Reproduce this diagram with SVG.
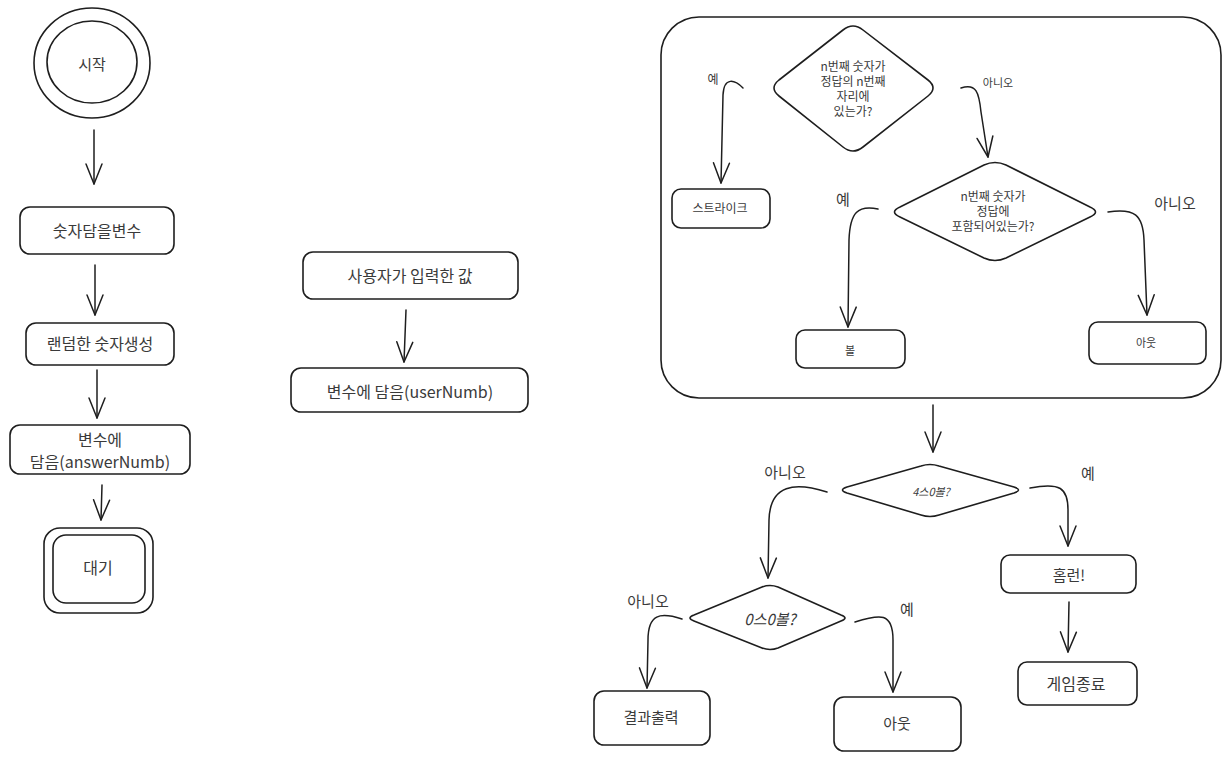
<svg xmlns="http://www.w3.org/2000/svg" width="1229" height="762" viewBox="0 0 1229 762">
  <defs>
    <style>
      .shape { fill: none; stroke: #1e1e1e; stroke-width: 1.6; stroke-linejoin: round; stroke-linecap: round; }
      .conn { fill: none; stroke: #1e1e1e; stroke-width: 1.5; stroke-linecap: round; }
      .t { font-family: "Noto Sans CJK KR", "Noto Sans", sans-serif; fill: #3a3a3a; text-anchor: middle; dominant-baseline: central; }
      .lg { font-size: 16px; }
      .md { font-size: 15px; }
      .sm { font-size: 12px; }
      .xs { font-size: 11px; }
    </style>
    <marker id="head" markerUnits="userSpaceOnUse" viewBox="-24 -12 28 24" refX="0" refY="0" markerWidth="28" markerHeight="24" orient="auto">
      <path d="M-20,-8 L0,0 L-20,8" fill="none" stroke="#1e1e1e" stroke-width="1.5" stroke-linecap="round" stroke-linejoin="round"/>
    </marker>
  </defs>
  <rect width="1229" height="762" fill="#ffffff"/>

  <!-- left column: answer number setup -->
  <g id="start">
    <ellipse class="shape" cx="92" cy="63" rx="58" ry="55"/>
    <ellipse class="shape" cx="92" cy="62" rx="45" ry="41"/>
    <text class="t md" x="92" y="63">시작</text>
  </g>
  <g id="var-box">
    <rect class="shape" x="20" y="207" width="154" height="47" rx="10"/>
    <text class="t lg" x="97" y="230">숫자담을변수</text>
  </g>
  <g id="random">
    <rect class="shape" x="26" y="323" width="148" height="42" rx="10"/>
    <text class="t lg" x="100" y="343">랜덤한 숫자생성</text>
  </g>
  <g id="store-answer">
    <rect class="shape" x="10" y="425" width="180" height="49" rx="10"/>
    <text class="t lg" x="100" y="439">변수에</text>
    <text class="t lg" x="100" y="461">담음(answerNumb)</text>
  </g>
  <g id="wait">
    <rect class="shape" x="44" y="528" width="109" height="85" rx="16"/>
    <rect class="shape" x="53" y="535" width="92" height="68" rx="13"/>
    <text class="t lg" x="98" y="567">대기</text>
  </g>

  <!-- middle column: user input -->
  <g id="user-input">
    <rect class="shape" x="303" y="252" width="215" height="47" rx="10"/>
    <text class="t lg" x="410" y="275">사용자가 입력한 값</text>
  </g>
  <g id="store-user">
    <rect class="shape" x="291" y="368" width="237" height="44" rx="10"/>
    <text class="t lg" x="410" y="391">변수에 담음(userNumb)</text>
  </g>

  <!-- right side: per-digit check -->
  <g id="check-frame">
    <rect class="shape" x="661" y="17" width="560" height="381" rx="38"/>
  </g>
  <g id="position-check">
    <path class="shape" d="M779,80 L843,30 Q853,22 863,30 L928,80 Q938,88 928,96 L863,147 Q853,155 843,147 L779,96 Q769,88 779,80 Z"/>
    <text class="t sm" x="853" y="65">n번째 숫자가</text>
    <text class="t sm" x="853" y="80">정답의 n번째</text>
    <text class="t sm" x="853" y="95">자리에</text>
    <text class="t sm" x="853" y="110">있는가?</text>
  </g>
  <g id="strike">
    <rect class="shape" x="672" y="189" width="98" height="39" rx="9"/>
    <text class="t sm" x="720" y="207">스트라이크</text>
  </g>
  <g id="contain-check">
    <path class="shape" d="M900,207 L984,165 Q995,160 1006,165 L1090,207 Q1101,212 1090,217 L1006,258 Q995,263 984,258 L900,217 Q889,212 900,207 Z"/>
    <text class="t sm" x="993" y="195">n번째 숫자가</text>
    <text class="t sm" x="993" y="210">정답에</text>
    <text class="t sm" x="993" y="225">포함되어있는가?</text>
  </g>
  <g id="ball">
    <rect class="shape" x="796" y="330" width="109" height="38" rx="9"/>
    <text class="t xs" x="850" y="350">볼</text>
  </g>
  <g id="out-inner">
    <rect class="shape" x="1089" y="322" width="117" height="42" rx="9"/>
    <text class="t xs" x="1146" y="342">아웃</text>
  </g>

  <!-- result branch -->
  <g id="four-strike">
    <path class="shape" d="M847,487 L921,466 Q930,463 939,466 L1014,487 Q1023,490 1014,493 L939,515 Q930,518 921,515 L847,493 Q838,490 847,487 Z"/>
    <text class="t xs" x="931" y="491" font-style="italic">4스0볼?</text>
  </g>
  <g id="zero-zero">
    <path class="shape" d="M694,615 L762,587 Q770,584 778,587 L841,615 Q849,618 841,621 L778,648 Q770,651 762,648 L694,621 Q686,618 694,615 Z"/>
    <text class="t md" x="770" y="618" font-style="italic">0스0볼?</text>
  </g>
  <g id="print-result">
    <rect class="shape" x="594" y="691" width="116" height="54" rx="10"/>
    <text class="t md" x="651" y="716">결과출력</text>
  </g>
  <g id="out">
    <rect class="shape" x="834" y="697" width="127" height="54" rx="10"/>
    <text class="t md" x="897" y="722">아웃</text>
  </g>
  <g id="homerun">
    <rect class="shape" x="1001" y="555" width="135" height="38" rx="9"/>
    <text class="t md" x="1069" y="574">홈런!</text>
  </g>
  <g id="game-over">
    <rect class="shape" x="1018" y="662" width="119" height="43" rx="9"/>
    <text class="t lg" x="1076" y="683">게임종료</text>
  </g>

  <!-- connectors -->
  <g id="connectors">
    <path class="conn" marker-end="url(#head)" d="M94,130 L94,184"/>
    <path class="conn" marker-end="url(#head)" d="M95,265 L95,315"/>
    <path class="conn" marker-end="url(#head)" d="M97,370 L97,418"/>
    <path class="conn" marker-end="url(#head)" d="M102,485 L101,520"/>
    <path class="conn" marker-end="url(#head)" d="M406,310 L404,362"/>
    <path class="conn" marker-end="url(#head)" d="M743,88 C735,80 724,76 723,95 L721,183"/>
    <path class="conn" marker-end="url(#head)" d="M961,88 C976,83 979,92 981,112 L988,157"/>
    <path class="conn" marker-end="url(#head)" d="M878,209 C858,205 850,212 849,240 L848,327"/>
    <path class="conn" marker-end="url(#head)" d="M1108,212 C1135,208 1143,215 1144,240 L1147,315"/>
    <path class="conn" marker-end="url(#head)" d="M933,405 L933,452"/>
    <path class="conn" marker-end="url(#head)" d="M827,492 C795,482 770,484 769,520 L768,578"/>
    <path class="conn" marker-end="url(#head)" d="M682,619 C660,612 648,614 648,640 L647,688"/>
    <path class="conn" marker-end="url(#head)" d="M855,622 C880,614 893,612 893,640 L893,692"/>
    <path class="conn" marker-end="url(#head)" d="M1030,488 C1060,482 1068,488 1068,510 L1068,546"/>
    <path class="conn" marker-end="url(#head)" d="M1069,602 L1068,652"/>
  </g>

  <!-- branch labels -->
  <g id="labels">
    <text class="t sm" x="713" y="78">예</text>
    <text class="t xs" x="998" y="82">아니오</text>
    <text class="t md" x="843" y="198">예</text>
    <text class="t md" x="1175" y="202">아니오</text>
    <text class="t md" x="785" y="471">아니오</text>
    <text class="t md" x="1088" y="472">예</text>
    <text class="t md" x="648" y="600">아니오</text>
    <text class="t md" x="907" y="608">예</text>
  </g>
</svg>
